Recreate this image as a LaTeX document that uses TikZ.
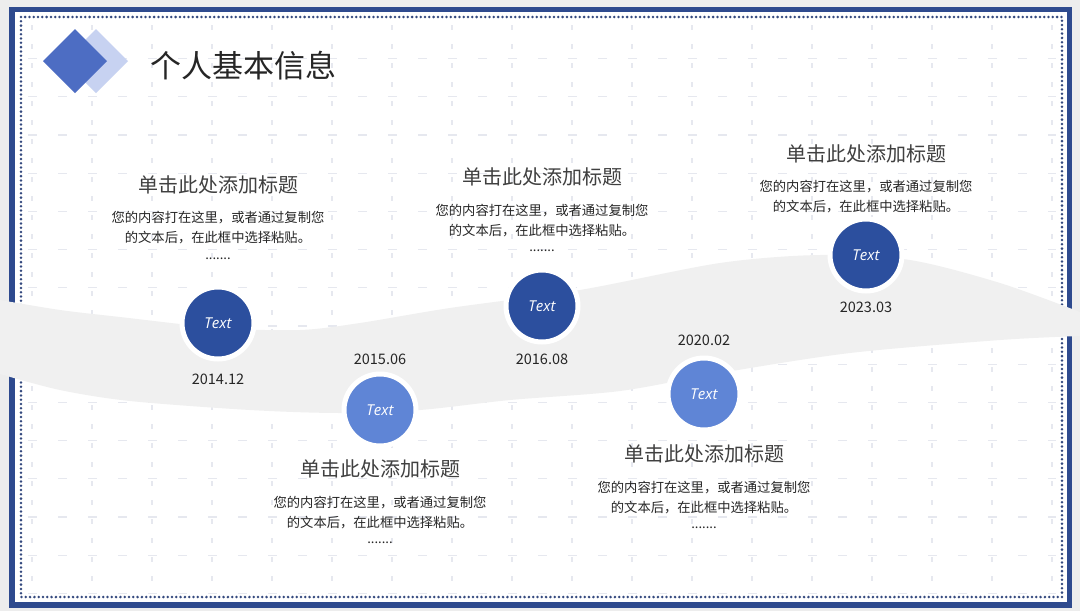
\documentclass[tikz,border=0pt]{standalone}
\usepackage{fontspec}
\setmainfont{Noto Sans CJK SC}
\newfontfamily\latinfont{Open Sans}
\usepackage{xcolor}
\usepackage{tikz}
\usetikzlibrary{positioning}

\definecolor{frameblue}{HTML}{2E4A8E}
\definecolor{dotnavy}{HTML}{34497E}
\definecolor{darkstage}{HTML}{2C4F9E}
\definecolor{lightstage}{HTML}{5F85D6}
\definecolor{diadark}{HTML}{4D6DC3}
\definecolor{dialight}{HTML}{C7D2F1}
\definecolor{bandgray}{HTML}{F0F0F0}
\definecolor{pagegray}{HTML}{EDEDED}
\definecolor{gridgray}{HTML}{E6E8EF}
\definecolor{headgray}{HTML}{404040}
\definecolor{textdark}{HTML}{262626}

\tikzset{
  stagedot/.style={circle, minimum size=72pt, inner sep=0pt, draw=white, line width=5pt,
    text=white, font=\latinfont\itshape\fontsize{15}{15}\selectfont},
  darkdot/.style={stagedot, fill=darkstage},
  lightdot/.style={stagedot, fill=lightstage},
  datelabel/.style={inner sep=0pt, text=textdark, font=\fontsize{14.5}{14.5}\selectfont},
  headline/.style={inner sep=0pt, text=headgray, font=\fontsize{20}{20}\selectfont},
  bodytext/.style={inner sep=0pt, align=center, text=textdark, font=\fontsize{13.3}{20}\selectfont},
  dotsline/.style={inner sep=0pt, text=textdark, font=\fontsize{13}{13}\selectfont},
}

\begin{document}
\begin{tikzpicture}[x=1pt, y=-1pt]
    \useasboundingbox (0,0) rectangle (1080,611);
    % page and frame
    \fill[pagegray] (0,0) rectangle (1080,611);
    \fill[white] (12,9.5) rectangle (1069.5,605);
    \draw[frameblue, line width=5.5pt] (12,9.5) rectangle (1069.5,605);

    % faint grid
    \foreach \gy in {58.6,96.8,135,173.2,211.4,249.6,287.8,326,364.2,402.4,440.6,478.8,517,555.2,593.4}
      \draw[gridgray, line width=1.2pt, dash pattern=on 9pt off 21pt] (28,\gy) -- (1056,\gy);
    \foreach \gx in {32,92,...,1052}
      \draw[gridgray, line width=1.2pt, dash pattern=on 5pt off 14pt] (\gx,25) -- (\gx,590);

    \draw[dotnavy, line width=2.8pt, line cap=round, dash pattern=on 0pt off 4.3pt] (21,17) rectangle (1062,597);

    % wave band
    \fill[bandgray] plot[smooth] coordinates {(0,300) (60,310) (120,317) (220,328) (300,330) (360,323)
        (450,308) (580,290) (720,263) (820,255) (910,260) (1000,283) (1080,312)}
      -- plot[smooth] coordinates {(1080,336) (1000,340) (850,353) (720,373) (620,391) (510,400)
        (420,410) (340,413) (250,410) (130,401) (60,390) (0,374)} -- cycle;

    % heading
    \fill[dialight] (96,29) -- (128,61) -- (96,93) -- (64,61) -- cycle;
    \fill[diadark] (75,29) -- (107,61) -- (75,93) -- (43,61) -- cycle;
    \node[anchor=west, inner sep=0pt, text=textdark, font=\fontsize{31}{31}\selectfont] (pagetitle) at (150,66) {个人基本信息};

    % stages
    \node[darkdot] (s1) at (218,323) {Text};
    \node[lightdot] (s2) at (380,410) {Text};
    \node[darkdot] (s3) at (542,306) {Text};
    \node[lightdot] (s4) at (704,394) {Text};
    \node[darkdot] (s5) at (866,255) {Text};

    \node[datelabel] (d1) at (218,379) {2014.12};
    \node[datelabel] (d2) at (380,359) {2015.06};
    \node[datelabel] (d3) at (542,359) {2016.08};
    \node[datelabel] (d4) at (704,340) {2020.02};
    \node[datelabel] (d5) at (866,307) {2023.03};

    % text blocks
    \node[headline] (h1) at (218,185) {单击此处添加标题};
    \node[bodytext] (b1) at (218,227.5) {您的内容打在这里，或者通过复制您\\的文本后，在此框中选择粘贴。};
    \node[dotsline] (e1) at (218,259) {.......};

    \node[headline] (h2) at (380,469) {单击此处添加标题};
    \node[bodytext] (b2) at (380,512.5) {您的内容打在这里，或者通过复制您\\的文本后，在此框中选择粘贴。};
    \node[dotsline] (e2) at (380,543) {.......};

    \node[headline] (h3) at (542,177) {单击此处添加标题};
    \node[bodytext] (b3) at (542,220.5) {您的内容打在这里，或者通过复制您\\的文本后，在此框中选择粘贴。};
    \node[dotsline] (e3) at (542,251) {.......};

    \node[headline] (h4) at (704,454) {单击此处添加标题};
    \node[bodytext] (b4) at (704,497.5) {您的内容打在这里，或者通过复制您\\的文本后，在此框中选择粘贴。};
    \node[dotsline] (e4) at (704,528) {.......};

    \node[headline] (h5) at (866,154) {单击此处添加标题};
    \node[bodytext] (b5) at (866,197) {您的内容打在这里，或者通过复制您\\的文本后，在此框中选择粘贴。};
  \end{tikzpicture}
\end{document}
